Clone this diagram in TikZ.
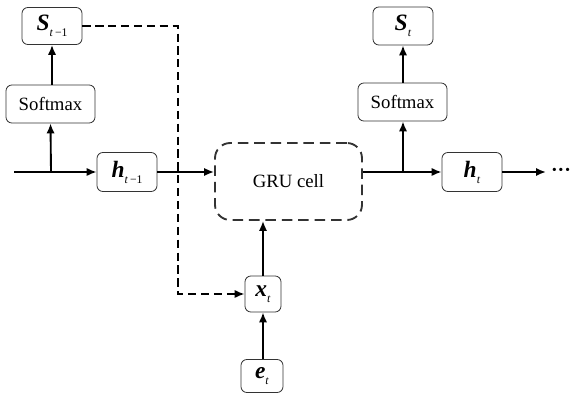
\documentclass[tikz,border=0pt]{standalone}
\usepackage{fontspec}
\setmainfont{Liberation Serif}
\usetikzlibrary{arrows.meta}
\tikzset{BoxStyle/.style={draw=black!80,line width=0.7pt,rounded corners=5pt,
    inner sep=0pt,font=\fontsize{16}{19}\selectfont}}
\tikzset{LineStyle/.style={line width=1.6pt,-{Latex[length=3mm,width=2.5mm]}}}
\newcommand{\Sym}[2]{{\fontsize{20}{22}\selectfont\bfseries\itshape #1}\raisebox{-0.7ex}{\fontsize{10}{11}\selectfont #2}}

\begin{document}
\begin{tikzpicture}[x=0.03cm,y=-0.03cm]
        \useasboundingbox (0,0) rectangle (574,398);
        % left output
        \node[BoxStyle,minimum width=1.8cm,minimum height=1.11cm] (S1) at (52,26) {\Sym{S}{\textit{t}\,−1}};
        \node[BoxStyle,minimum width=2.67cm,minimum height=1.14cm] (SM1) at (50.5,104) {Softmax};
        \node[BoxStyle,minimum width=1.8cm,minimum height=1.17cm] (h1) at (127,172) {\Sym{h}{\textit{t}\,−1}};
        % cell
        \node[BoxStyle,dashed,dash pattern=on 9pt off 5pt,line width=1.6pt,rounded corners=13pt,
            minimum width=4.41cm,minimum height=2.31cm] (GRU) at (288.5,181.5) {GRU cell};
        % right output
        \node[BoxStyle,minimum width=2.67cm,minimum height=1.14cm] (SM2) at (402.5,102) {Softmax};
        \node[BoxStyle,minimum width=1.8cm,minimum height=1.14cm] (S2) at (403,26) {\Sym{S}{\textit{t}}};
        \node[BoxStyle,minimum width=1.8cm,minimum height=1.17cm] (h2) at (472,172) {\Sym{h}{\textit{t}}};
        \node[inner sep=0pt] (dots) at (561,172) {\fontsize{17}{20}\selectfont\bfseries ···};
        % input
        \node[BoxStyle,minimum width=1.08cm,minimum height=1.08cm] (xt) at (263,294) {\Sym{x}{\textit{t}}};
        \node[BoxStyle,minimum width=1.26cm,minimum height=0.99cm] (et) at (262,376) {\Sym{e}{\textit{t}}};
        \coordinate (start) at (14,172);
        \coordinate (split1) at (51,172);
        \coordinate (split2) at (403,172);
        \coordinate (bend) at (178,294);
        \coordinate (stop) at (546,172);
        \draw[LineStyle] (start) -- (h1.west);
        \draw[LineStyle] (split1) -- (SM1.south);
        \draw[LineStyle] (SM1.north -| S1.south) -- (S1.south);
        \draw[LineStyle] (h1.east) -- (GRU.west |- h1.east);
        \draw[LineStyle] (GRU.east |- h1.east) -- (h2.west);
        \draw[LineStyle] (split2) -- (SM2.south -| split2);
        \draw[LineStyle] (SM2.north -| S2.south) -- (S2.south);
        \draw[LineStyle] (h2.east) -- (stop);
        \draw[LineStyle] (et.north -| xt.south) -- (xt.south);
        \draw[LineStyle] (xt.north) -- (xt.north |- GRU.south);
        \draw[LineStyle,dashed,dash pattern=on 7pt off 4pt] (S1.east) -| (bend) -- (xt.west);
    \end{tikzpicture}
\end{document}
